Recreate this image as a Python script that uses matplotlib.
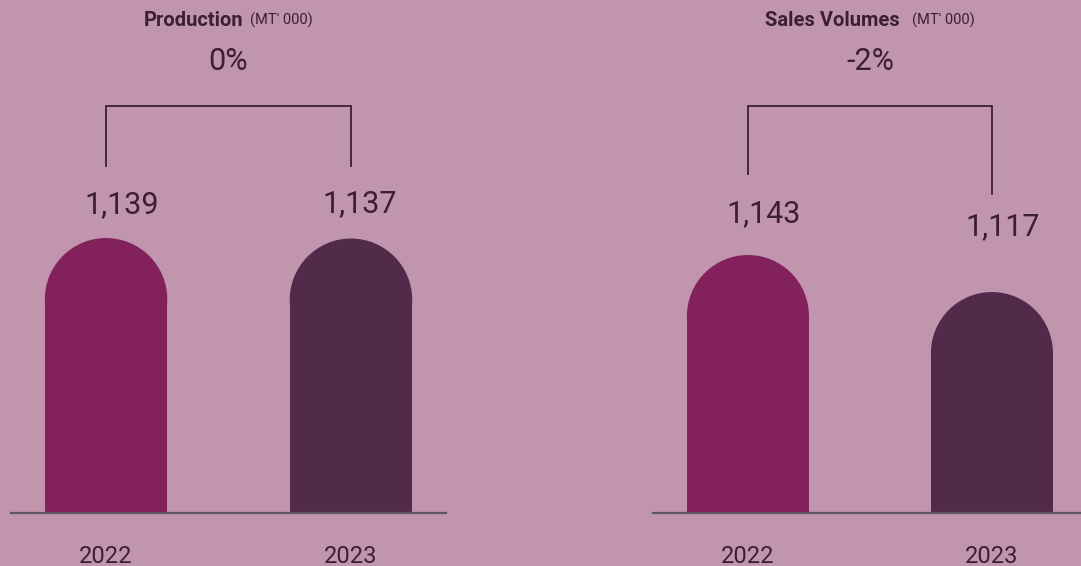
import matplotlib
matplotlib.use("Agg")
import matplotlib.pyplot as plt
from matplotlib.patches import Rectangle, Ellipse
from matplotlib.transforms import offset_copy

# ---- data ----
years = ["2022", "2023"]
production = [1139, 1137]
sales = [1143, 1117]
panel_titles = ["Production", "Sales Volumes"]
unit_label = "(MT' 000)"
changes = ["0%", "-2%"]

# ---- style ----
BG = "#C095AD"
BAR_COLORS = ["#83215C", "#522B4A"]
TEXT = "#3C1F36"
BASE = "#5E5A62"
FONT = "Roboto"

W, H = 1081, 566
fig = plt.figure(figsize=(W / 100, H / 100), dpi=100)
fig.patch.set_facecolor(BG)

axL = fig.add_axes([11 / W, 1 - 513 / H, (446 - 11) / W, 513 / H])
axR = fig.add_axes([653 / W, 1 - 513 / H, (1081 - 653) / W, 513 / H])

panels = [
    dict(ax=axL, values=production, xlim=(-0.388, 1.388), ylim=(0, 2125),
         bracket=(0.793, 0.676, 0.676), label_off=[(16, 33), (9, 35)], gap=7),
    dict(ax=axR, values=sales, xlim=(-0.389, 1.365), ylim=(961.7, 1322.2),
         bracket=(0.793, 0.661, 0.622), label_off=[(16, 41), (11, 65)], gap=12),
]

BAR_W = 0.5
renderer = fig.canvas.get_renderer()

for i, p in enumerate(panels):
    ax = p["ax"]
    ax.set_facecolor("none")
    ax.set_xlim(*p["xlim"])
    ax.set_ylim(*p["ylim"])
    for s in ["top", "right", "left"]:
        ax.spines[s].set_visible(False)
    ax.spines["bottom"].set_color(BASE)
    ax.spines["bottom"].set_linewidth(1.6)
    ax.set_yticks([])
    xs = list(range(len(years)))
    ax.set_xticks(xs)
    ax.set_xticklabels(years, fontsize=17, color=TEXT, fontfamily=FONT)
    ax.tick_params(axis="x", length=0, pad=23)

    # pixel scales for round tops
    px_per_x = ax.bbox.width / (p["xlim"][1] - p["xlim"][0])
    px_per_y = ax.bbox.height / (p["ylim"][1] - p["ylim"][0])
    r_data = (BAR_W / 2) * px_per_x / px_per_y
    ymin = p["ylim"][0]
    for j, (x, v) in enumerate(zip(xs, p["values"])):
        c = BAR_COLORS[j]
        ax.add_patch(Rectangle((x - BAR_W / 2, ymin), BAR_W, v - r_data - ymin,
                               facecolor=c, edgecolor="none", clip_on=False))
        ax.add_patch(Ellipse((x, v - r_data), BAR_W, 2 * r_data,
                             facecolor=c, edgecolor="none", clip_on=False))
        dx, dy = p["label_off"][j]
        ax.annotate(f"{v:,}", xy=(x, v), xytext=(dx * 0.72, dy * 0.72),
                    textcoords="offset points", ha="center", va="center",
                    fontsize=22, color=TEXT, fontfamily=FONT)

    # bracket
    trans = ax.get_xaxis_transform()
    ytop, yl, yr = p["bracket"]
    ax.plot([xs[0], xs[0], xs[1], xs[1]], [yl, ytop, ytop, yr],
            transform=trans, color=TEXT, lw=1.3, clip_on=False,
            solid_joinstyle="miter")

    mid = (xs[0] + xs[1]) / 2
    ax.text(mid, 1 - 61 / 513, changes[i], transform=trans,
            ha="center", va="center", fontsize=22, color=TEXT, fontfamily=FONT)
    # title: bold + unit, centered together
    ty = 1 - 21 / 513
    t1 = ax.text(mid, ty, panel_titles[i], transform=trans, ha="left",
                 va="center", fontsize=14.5, fontweight="bold", color=TEXT,
                 fontfamily=FONT)
    t2 = ax.text(mid, ty, unit_label, transform=trans, ha="left",
                 va="center", fontsize=10.5, color=TEXT, fontfamily=FONT)
    w1 = t1.get_window_extent(renderer).width
    w2 = t2.get_window_extent(renderer).width
    total = w1 + p["gap"] + w2
    t1.set_transform(offset_copy(trans, fig=fig, x=-total / 2, y=0, units="dots"))
    t2.set_transform(offset_copy(trans, fig=fig, x=-total / 2 + w1 + p["gap"], y=1,
                                 units="dots"))

fig.savefig("out.png", dpi=100, facecolor=BG)
